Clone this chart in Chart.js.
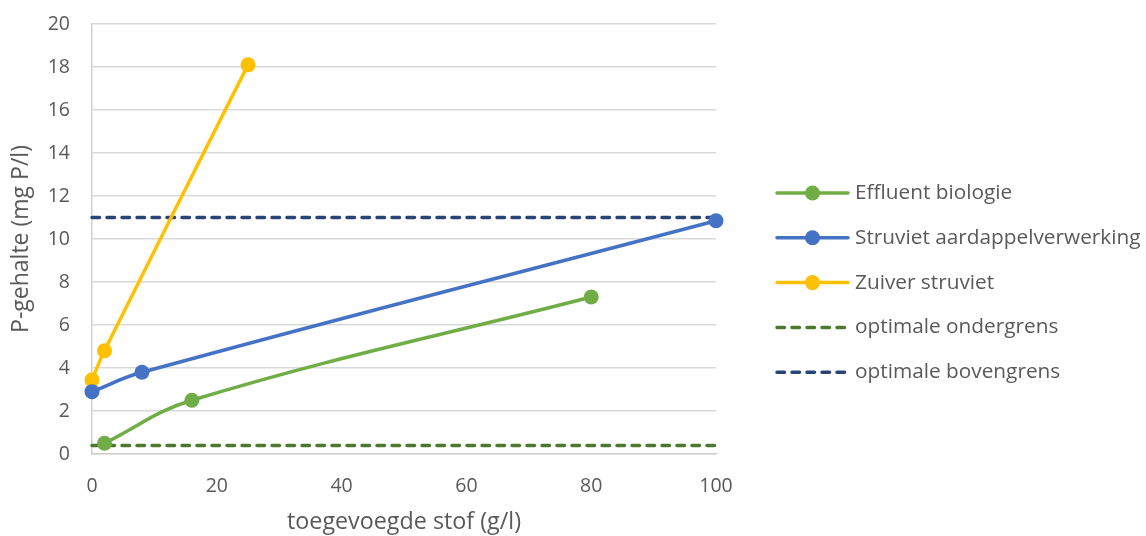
<!DOCTYPE html>
<html>
<head>
<meta charset="utf-8">
<script src="https://cdn.jsdelivr.net/npm/chart.js@4/dist/chart.umd.min.js"></script>
<style>
  html, body { margin: 0; padding: 0; background: #ffffff; }
  #wrap { width: 1146px; height: 536px; position: relative; }
</style>
</head>
<body>
<div id="wrap"><canvas id="c" width="1146" height="536"></canvas></div>
<script>
// Added substance (g/l) and resulting P content (mg P/l) per material
const effluentX = [2, 16, 80];
const effluentY = [0.5, 2.5, 7.3];
const struvietAardX = [0, 8, 100];
const struvietAardY = [2.9, 3.8, 10.85];
const zuiverX = [0, 2, 25];
const zuiverY = [3.45, 4.8, 18.1];
// Optimal range limits, drawn across the full x range
const limitX = [0, 100];
const ondergrensY = [0.4, 0.4];
const bovengrensY = [11, 11];

const seriesNames = ['Effluent biologie', 'Struviet aardappelverwerking', 'Zuiver struviet',
                     'optimale ondergrens', 'optimale bovengrens'];
const xTicks = [0, 20, 40, 60, 80, 100];
const yTicks = [0, 2, 4, 6, 8, 10, 12, 14, 16, 18, 20];

const pts = (xs, ys) => xs.map((x, i) => ({ x: x, y: ys[i] }));
const FONT = '"Open Sans", Lato, sans-serif';
const TEXT = '#595959';

function lineSet(label, data, color) {
  return {
    label, data,
    borderColor: color, backgroundColor: color,
    borderWidth: 3.5, pointRadius: 7.5, pointHoverRadius: 7.5,
    pointBorderWidth: 0, tension: 0.4, clip: false, fill: false
  };
}
function dashSet(label, data, color) {
  return {
    label, data,
    borderColor: color, backgroundColor: color,
    borderWidth: 3.5, borderDash: [7.5, 7.5], borderCapStyle: 'round',
    pointRadius: 0, tension: 0, clip: false, fill: false
  };
}

// Legend with line + marker samples, drawn to the right of the plot
const sideLegend = {
  id: 'sideLegend',
  afterDraw(chart) {
    const ctx = chart.ctx;
    const x0 = 777, x1 = 848, textX = 855;
    const yStart = 193, step = 44.8;
    ctx.save();
    chart.data.datasets.forEach((ds, i) => {
      const y = yStart + i * step;
      ctx.strokeStyle = ds.borderColor;
      ctx.lineWidth = 3.5;
      ctx.lineCap = 'round';
      ctx.setLineDash(ds.borderDash || []);
      ctx.beginPath();
      ctx.moveTo(x0, y);
      ctx.lineTo(x1, y);
      ctx.stroke();
      ctx.setLineDash([]);
      if (ds.pointRadius > 0) {
        ctx.fillStyle = ds.backgroundColor;
        ctx.beginPath();
        ctx.arc((x0 + x1) / 2, y, 7.5, 0, Math.PI * 2);
        ctx.fill();
      }
      ctx.fillStyle = TEXT;
      ctx.font = '20.8px ' + FONT;
      ctx.textBaseline = 'middle';
      ctx.textAlign = 'left';
      ctx.fillText(ds.label, textX, y);
    });
    ctx.restore();
  }
};

new Chart(document.getElementById('c'), {
  type: 'line',
  data: {
    datasets: [
      lineSet(seriesNames[0], pts(effluentX, effluentY), '#70ad47'),
      lineSet(seriesNames[1], pts(struvietAardX, struvietAardY), '#4472c4'),
      lineSet(seriesNames[2], pts(zuiverX, zuiverY), '#ffc000'),
      dashSet(seriesNames[3], pts(limitX, ondergrensY), '#4b7a2e'),
      dashSet(seriesNames[4], pts(limitX, bovengrensY), '#264478')
    ]
  },
  options: {
    responsive: false,
    animation: false,
    events: [],
    layout: { padding: { top: 24, right: 430, left: 0, bottom: 0 } },
    plugins: { legend: { display: false }, tooltip: { enabled: false } },
    scales: {
      x: {
        type: 'linear', min: 0, max: 100,
        afterBuildTicks: s => { s.ticks = xTicks.map(v => ({ value: v })); },
        afterFit: s => { s.height = 82; s.paddingLeft = 0; s.paddingRight = 0; },
        grid: { display: false, drawTicks: false },
        border: { display: true, color: '#d0d0d0', width: 1.5 },
        ticks: { color: TEXT, font: { family: FONT, size: 19.5 }, padding: 21, maxRotation: 0 },
        title: { display: true, text: 'toegevoegde stof (g/l)', color: TEXT,
                 font: { family: FONT, size: 23.3 }, padding: { top: 0, bottom: 0 } }
      },
      y: {
        min: 0, max: 20,
        afterBuildTicks: s => { s.ticks = yTicks.map(v => ({ value: v })); },
        afterFit: s => { s.width = 92; s.paddingTop = 0; s.paddingBottom = 0; },
        grid: { color: '#d9d9d9', lineWidth: 1.5, drawTicks: false },
        border: { display: true, color: '#d0d0d0', width: 1.5 },
        ticks: { color: TEXT, font: { family: FONT, size: 19.5 }, padding: 22 },
        title: { display: true, text: 'P-gehalte (mg P/l)', color: TEXT,
                 font: { family: FONT, size: 23 }, padding: { top: 8, bottom: 0 } }
      }
    }
  },
  plugins: [sideLegend]
});
</script>
</body>
</html>
